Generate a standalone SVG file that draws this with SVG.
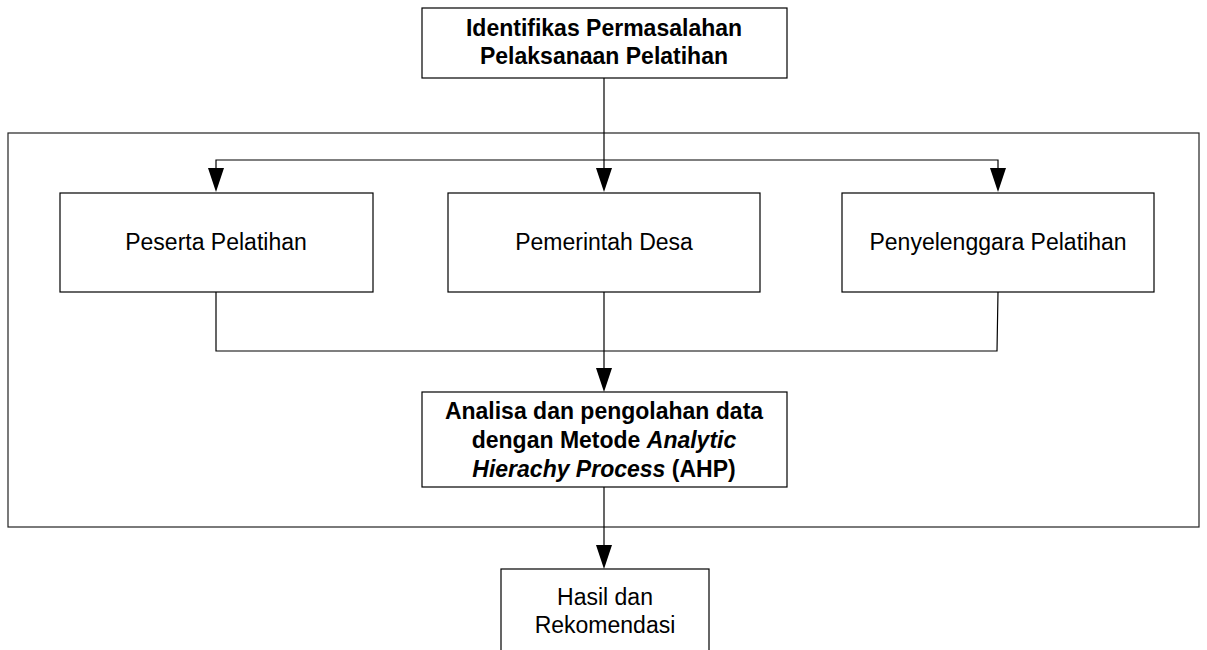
<svg xmlns="http://www.w3.org/2000/svg" width="1207" height="650" viewBox="0 0 1207 650">
<style>
.box{fill:#fff;stroke:#000;stroke-width:1.2}
.frame{fill:none;stroke:#222;stroke-width:1.2}
.ln{fill:none;stroke:#000;stroke-width:1.2}
.t{font-family:"Liberation Sans",Arial,sans-serif;font-size:23px;fill:#000;text-anchor:middle}
.b{font-weight:bold;font-size:23px}
</style>
<rect class="frame" x="8" y="133" width="1191" height="394"/>
<g id="connectors">
<line class="ln" x1="604" y1="78" x2="604" y2="168"/>
<polygon points="596,168 612,168 604,192" fill="#000"/>
<polyline class="ln" points="216,168 216,160 998,160 998,168"/>
<polygon points="208,168 224,168 216,192" fill="#000"/>
<polygon points="990,168 1006,168 998,192" fill="#000"/>
<polyline class="ln" points="216,292 216,351 997,351 998,292"/>
<line class="ln" x1="604" y1="292" x2="604" y2="368"/>
<polygon points="596,368 612,368 604,392" fill="#000"/>
<line class="ln" x1="604" y1="487" x2="604" y2="545"/>
<polygon points="596,545 612,545 604,569" fill="#000"/>
</g>
<g id="n1">
<rect class="box" x="422" y="8" width="365" height="70"/>
<text class="t b" x="604" y="36">Identifikas Permasalahan</text>
<text class="t b" x="604" y="64">Pelaksanaan Pelatihan</text>
</g>
<g id="n2">
<rect class="box" x="60" y="193" width="313" height="99"/>
<text class="t" x="216" y="250">Peserta Pelatihan</text>
</g>
<g id="n3">
<rect class="box" x="448" y="193" width="312" height="99"/>
<text class="t" x="604" y="250">Pemerintah Desa</text>
</g>
<g id="n4">
<rect class="box" x="842" y="193" width="312" height="99"/>
<text class="t" x="998" y="250">Penyelenggara Pelatihan</text>
</g>
<g id="n5">
<rect class="box" x="422" y="392" width="365" height="95"/>
<text class="t b" x="604" y="419">Analisa dan pengolahan data</text>
<text class="t b" x="604" y="448">dengan Metode <tspan font-style="italic">Analytic</tspan></text>
<text class="t b" x="604" y="477"><tspan font-style="italic">Hierachy Process</tspan> (AHP)</text>
</g>
<g id="n6">
<rect class="box" x="501" y="569" width="208" height="90"/>
<text class="t" x="605" y="605">Hasil dan</text>
<text class="t" x="605" y="633">Rekomendasi</text>
</g>
</svg>
